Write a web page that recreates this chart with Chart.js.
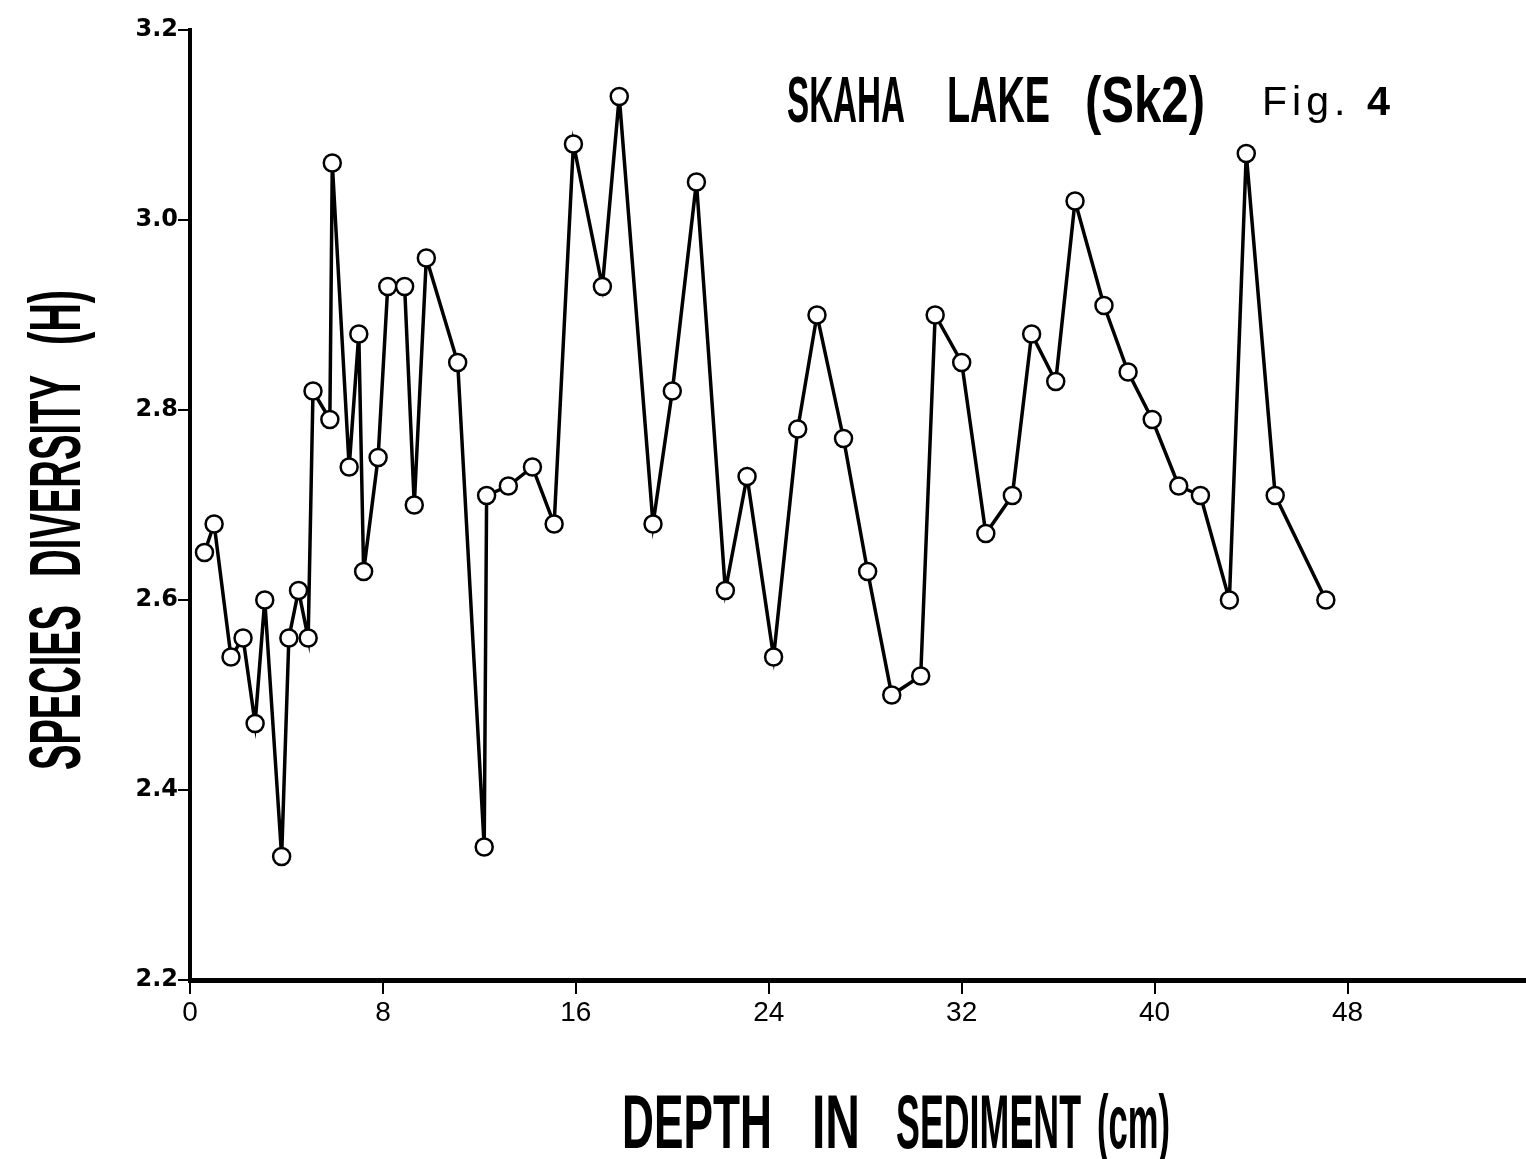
<!DOCTYPE html>
<html>
<head>
<meta charset="utf-8">
<script src="https://cdn.jsdelivr.net/npm/chart.js@4.4.1/dist/chart.umd.min.js"></script>
<style>
    html, body { margin: 0; padding: 0; background: #fff; overflow: hidden; }
    #wrap { width: 1537px; height: 1159px; position: relative; }
</style>
</head>
<body>
<div id="wrap"><canvas id="myChart"></canvas></div>
<script>
// depth in sediment (cm) and species diversity H
const depthCm = [
    0.6, 1.0, 1.7, 2.2, 2.7, 3.1, 3.8, 4.1, 4.5, 4.9,
    5.1, 5.8, 5.9, 6.6, 7.0, 7.2, 7.8, 8.2, 8.9, 9.3,
    9.8, 11.1, 12.2, 12.3, 13.2, 14.2, 15.1, 15.9, 17.1, 17.8,
    19.2, 20.0, 21.0, 22.2, 23.1, 24.2, 25.2, 26.0, 27.1, 28.1,
    29.1, 30.3, 30.9, 32.0, 33.0, 34.1, 34.9, 35.9, 36.7, 37.9,
    38.9, 39.9, 41.0, 41.9, 43.1, 43.8, 45.0, 47.1
];
const diversityH = [
    2.65, 2.68, 2.54, 2.56, 2.47, 2.60, 2.33, 2.56, 2.61, 2.56,
    2.82, 2.79, 3.06, 2.74, 2.88, 2.63, 2.75, 2.93, 2.93, 2.70,
    2.96, 2.85, 2.34, 2.71, 2.72, 2.74, 2.68, 3.08, 2.93, 3.13,
    2.68, 2.82, 3.04, 2.61, 2.73, 2.54, 2.78, 2.90, 2.77, 2.63,
    2.50, 2.52, 2.90, 2.85, 2.67, 2.71, 2.88, 2.83, 3.02, 2.91,
    2.84, 2.79, 2.72, 2.71, 2.60, 3.07, 2.71, 2.60
];
const xTickValues = [0, 8, 16, 24, 32, 40, 48];
const yTickValues = [2.2, 2.4, 2.6, 2.8, 3.0, 3.2];

// draws one word squeezed to a given width, optionally rotated
function drawWord(ctx, text, x, y, w, font, rot) {
    ctx.save();
    ctx.font = font;
    ctx.fillStyle = '#000';
    ctx.textAlign = 'left';
    ctx.textBaseline = 'alphabetic';
    const m = ctx.measureText(text).width;
    ctx.translate(x, y);
    if (rot) ctx.rotate(rot);
    ctx.scale(w / m, 1);
    ctx.fillText(text, 0, 0);
    ctx.restore();
}

const figText = {
    id: 'figText',
    afterDraw(chart) {
        const ctx = chart.ctx;
        const big = 'bold 76px "Liberation Sans"';
        drawWord(ctx, 'DEPTH', 622, 1148, 150, big);
        drawWord(ctx, 'IN', 812, 1148, 48, big);
        drawWord(ctx, 'SEDIMENT', 896, 1148, 185, big);
        drawWord(ctx, '(cm)', 1097, 1148, 73, big);

        const yt = 'bold 73px "Liberation Sans"';
        drawWord(ctx, 'SPECIES', 80, 770, 165, yt, -Math.PI / 2);
        drawWord(ctx, 'DIVERSITY', 80, 577, 202, yt, -Math.PI / 2);
        drawWord(ctx, '(H)', 80, 345, 55, yt, -Math.PI / 2);

        const tt = 'bold 65px "Liberation Sans"';
        drawWord(ctx, 'SKAHA', 787, 122, 118, tt);
        drawWord(ctx, 'LAKE', 947, 122, 103, tt);
        drawWord(ctx, '(Sk2)', 1085, 122, 120, tt);

        ctx.save();
        ctx.font = '41px "Liberation Sans"';
        ctx.letterSpacing = '5px';
        ctx.fillStyle = '#000';
        ctx.fillText('Fig.', 1262, 115);
        ctx.restore();
        drawWord(ctx, '4', 1367, 115, 23, 'bold 41px "Liberation Sans"');
    }
};

const ctx = document.getElementById('myChart');
const chart = new Chart(ctx, {
    type: 'line',
    data: {
        datasets: [{
            label: 'Sk2',
            data: depthCm.map((d, i) => ({ x: d, y: diversityH[i] })),
            borderColor: '#000',
            borderWidth: 3.5,
            pointRadius: 8.5,
            pointBorderWidth: 2.5,
            pointBackgroundColor: '#fff',
            pointBorderColor: '#000',
            tension: 0,
            clip: false
        }]
    },
    options: {
        responsive: true,
        maintainAspectRatio: false,
        animation: false,
        layout: { padding: { top: 30, right: 0, left: 0, bottom: 0 } },
        plugins: {
            legend: { display: false },
            tooltip: { enabled: false }
        },
        scales: {
            x: {
                type: 'linear',
                min: 0,
                max: 55.4,
                afterBuildTicks: s => { s.ticks = xTickValues.map(v => ({ value: v })); },
                afterFit: s => { s.height = 179; },
                border: { display: true, color: '#000', width: 5 },
                grid: { drawOnChartArea: false, drawTicks: true, tickLength: 14, color: '#000', lineWidth: 2 },
                ticks: {
                    color: '#000',
                    padding: 2,
                    maxRotation: 0,
                    autoSkip: false,
                    font: { family: '"Liberation Sans"', size: 28 }
                }
            },
            y: {
                min: 2.2,
                max: 3.2,
                afterBuildTicks: s => { s.ticks = yTickValues.map(v => ({ value: v })); },
                afterFit: s => { s.width = 190; },
                border: { display: true, color: '#000', width: 4 },
                grid: { drawOnChartArea: false, drawTicks: true, tickLength: 12, color: '#000', lineWidth: 2 },
                ticks: {
                    color: '#000',
                    padding: 0,
                    font: { family: '"DejaVu Sans"', size: 24, weight: 'bold' },
                    callback: v => v.toFixed(1)
                }
            }
        }
    },
    plugins: [figText]
});
</script>
</body>
</html>
